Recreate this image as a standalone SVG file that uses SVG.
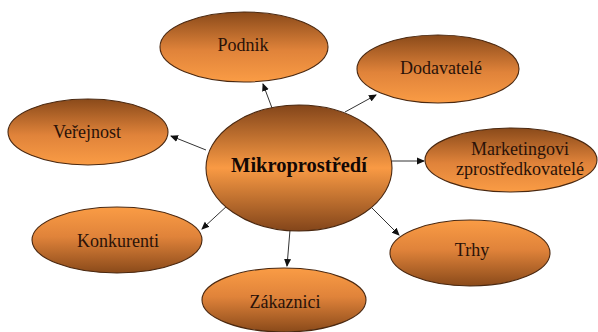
<svg xmlns="http://www.w3.org/2000/svg" width="598" height="332" viewBox="0 0 598 332">
  <defs>
    <!-- dark top fading to light orange bottom -->
    <linearGradient id="gDown" x1="0" y1="0" x2="0" y2="1">
      <stop offset="0" stop-color="#8a4a1a"/>
      <stop offset="0.55" stop-color="#e0833a"/>
      <stop offset="1" stop-color="#fa9c45"/>
    </linearGradient>
    <!-- light orange top fading to dark bottom -->
    <linearGradient id="gUp" x1="0" y1="0" x2="0" y2="1">
      <stop offset="0" stop-color="#fa9c45"/>
      <stop offset="0.45" stop-color="#e0833a"/>
      <stop offset="1" stop-color="#8a4a1a"/>
    </linearGradient>
    <!-- dark edges, light band in the middle -->
    <linearGradient id="gMid" x1="0" y1="0" x2="0" y2="1">
      <stop offset="0" stop-color="#83451a"/>
      <stop offset="0.5" stop-color="#f99a44"/>
      <stop offset="1" stop-color="#83451a"/>
    </linearGradient>
    <marker id="arrow" markerWidth="8" markerHeight="8" refX="7" refY="4" orient="auto" markerUnits="userSpaceOnUse">
      <path d="M0,0.5 L8,4 L0,7.5 Z" fill="#111"/>
    </marker>
  </defs>
  <style>
    .node { stroke: #4a2810; stroke-width: 1.1; }
    text { font-family: "Liberation Serif", "Times New Roman", serif; text-anchor: middle; }
    .lbl { font-size: 18px; fill: #2a1208; }
    .center { font-size: 20.5px; font-weight: bold; fill: #140804; }
    .edge { stroke: #333; stroke-width: 1; fill: none; marker-end: url(#arrow); }
  </style>
  <rect width="598" height="332" fill="#ffffff"/>

  <g id="connectors">
    <line class="edge" x1="272" y1="108" x2="263" y2="84"/>
    <line class="edge" x1="345" y1="112" x2="376" y2="95"/>
    <line class="edge" x1="392" y1="161" x2="424" y2="161"/>
    <line class="edge" x1="372" y1="208" x2="399" y2="235"/>
    <line class="edge" x1="290" y1="230" x2="287" y2="266"/>
    <line class="edge" x1="228" y1="205" x2="202" y2="229"/>
    <line class="edge" x1="206" y1="150" x2="171" y2="136"/>
  </g>

  <g id="podnik">
    <ellipse class="node" cx="244" cy="47" rx="84" ry="35" fill="url(#gDown)"/>
    <text class="lbl" x="243" y="51">Podnik</text>
  </g>
  <g id="dodavatele">
    <ellipse class="node" cx="438" cy="69" rx="81" ry="34" fill="url(#gDown)"/>
    <text class="lbl" x="441" y="74">Dodavatelé</text>
  </g>
  <g id="verejnost">
    <ellipse class="node" cx="88" cy="132" rx="80" ry="33" fill="url(#gDown)"/>
    <text class="lbl" x="87" y="138">Veřejnost</text>
  </g>
  <g id="marketingovi">
    <ellipse class="node" cx="511" cy="160" rx="86" ry="32" fill="url(#gDown)"/>
    <text class="lbl" x="520" y="155">Marketingovi</text>
    <text class="lbl" x="520" y="175">zprostředkovatelé</text>
  </g>
  <g id="konkurenti">
    <ellipse class="node" cx="117" cy="240" rx="85" ry="33" fill="url(#gUp)"/>
    <text class="lbl" x="118" y="247">Konkurenti</text>
  </g>
  <g id="trhy">
    <ellipse class="node" cx="470" cy="253" rx="80" ry="33" fill="url(#gUp)"/>
    <text class="lbl" x="472" y="256">Trhy</text>
  </g>
  <g id="zakaznici">
    <ellipse class="node" cx="284" cy="300" rx="82" ry="32" fill="url(#gUp)"/>
    <text class="lbl" x="285" y="308">Zákaznici</text>
  </g>
  <g id="mikroprostredi">
    <ellipse class="node" cx="299" cy="168" rx="93" ry="63" fill="url(#gMid)"/>
    <text class="center" x="299" y="172">Mikroprostředí</text>
  </g>
</svg>
